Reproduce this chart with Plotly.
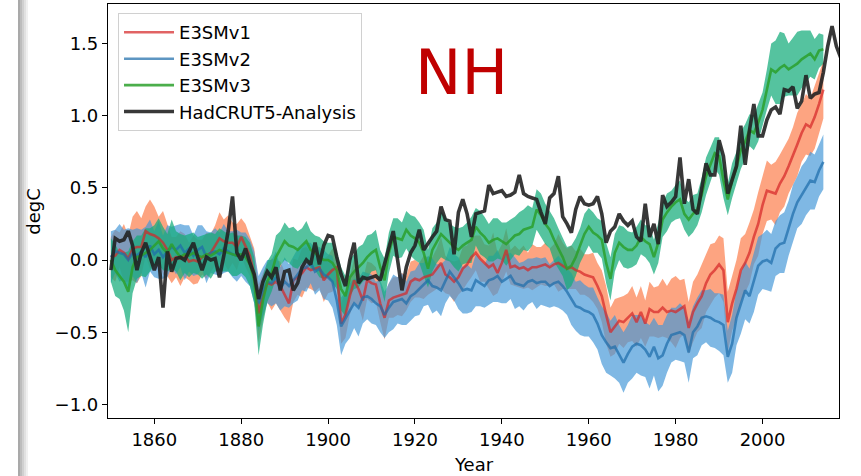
import numpy as np
import plotly.graph_objects as go

# ---- data -------------------------------------------------------------
model_years = list(range(1850, 2015))
obs_years = list(range(1850, 2021))

e3smv1_mean = [
    0.02, 0.03, 0.07, 0.05, 0.01, 0.08, 0.09, 0.09, 0.20, 0.18,
    0.17, 0.15, 0.12, 0.07, 0.00, 0.02, 0.01, 0.03, -0.01, 0.00,
    -0.01, 0.02, 0.03, 0.05, 0.10, 0.15, 0.13, 0.12, 0.12, 0.09,
    0.16, 0.10, 0.03, -0.10, -0.37, -0.25, -0.16, -0.17, -0.15, -0.18,
    -0.24, -0.30, -0.14, -0.12, -0.09, -0.05, -0.07, -0.06, -0.05, -0.14,
    -0.10, -0.07, -0.05, -0.44, -0.38, -0.25, -0.14, -0.20, -0.28, -0.14,
    -0.16, -0.17, -0.30, -0.40, -0.28, -0.26, -0.25, -0.24, -0.23, -0.15,
    -0.13, -0.14, -0.12, -0.11, -0.10, -0.06, -0.02, -0.10, -0.12, -0.15,
    -0.12, -0.06, -0.03, 0.02, 0.05, 0.01, -0.02, -0.05, -0.03, -0.09,
    -0.02, 0.07, -0.05, -0.04, -0.06, -0.05, -0.07, -0.05, -0.05, -0.04,
    -0.03, -0.05, -0.03, -0.02, -0.04, -0.06, -0.05, -0.07, -0.08, -0.10,
    -0.11, -0.12, -0.18, -0.25, -0.38, -0.50, -0.46, -0.42, -0.43, -0.40,
    -0.37, -0.43, -0.36, -0.44, -0.34, -0.36, -0.36, -0.33, -0.36, -0.35,
    -0.36, -0.34, -0.32, -0.47, -0.36, -0.30, -0.25, -0.16, -0.10, -0.07,
    -0.03, -0.07, -0.43, -0.30, -0.20, -0.07, -0.02, 0.05, 0.16, 0.25,
    0.38, 0.48, 0.47, 0.46, 0.53, 0.58, 0.65, 0.72, 0.80, 0.88,
    0.94, 0.92, 0.99, 1.08, 1.18,
]
e3smv1_spread = [
    0.14, 0.18, 0.12, 0.20, 0.16, 0.22, 0.25, 0.20, 0.17, 0.24,
    0.20, 0.15, 0.22, 0.18, 0.16, 0.14, 0.19, 0.15, 0.13, 0.17,
    0.15, 0.12, 0.16, 0.13, 0.14, 0.18, 0.15, 0.19, 0.14, 0.16,
    0.13, 0.15, 0.14, 0.18, 0.20, 0.16, 0.13, 0.18, 0.15, 0.17,
    0.16, 0.14, 0.15, 0.12, 0.17, 0.14, 0.13, 0.16, 0.14, 0.15,
    0.13, 0.15, 0.12, 0.14, 0.16, 0.13, 0.15, 0.12, 0.14, 0.13,
    0.14, 0.12, 0.13, 0.15, 0.12, 0.14, 0.13, 0.15, 0.12, 0.14,
    0.13, 0.12, 0.15, 0.13, 0.12, 0.14, 0.18, 0.13, 0.12, 0.14,
    0.12, 0.15, 0.13, 0.14, 0.12, 0.16, 0.13, 0.15, 0.22, 0.14,
    0.13, 0.15, 0.12, 0.14, 0.13, 0.15, 0.12, 0.16, 0.14, 0.13,
    0.15, 0.13, 0.14, 0.20, 0.16, 0.14, 0.15, 0.13, 0.16, 0.14,
    0.15, 0.17, 0.16, 0.18, 0.20, 0.17, 0.19, 0.16, 0.18, 0.17,
    0.19, 0.17, 0.18, 0.16, 0.19, 0.17, 0.18, 0.20, 0.18, 0.22,
    0.25, 0.20, 0.19, 0.18, 0.21, 0.20, 0.22, 0.20, 0.21, 0.19,
    0.20, 0.22, 0.21, 0.19, 0.20, 0.22, 0.20, 0.21, 0.19, 0.22,
    0.20, 0.21, 0.19, 0.22, 0.20, 0.21, 0.19, 0.20, 0.22, 0.20,
    0.21, 0.20, 0.22, 0.21, 0.20,
]

e3smv2_mean = [
    0.02, 0.06, 0.05, 0.04, 0.00, 0.05, 0.03, 0.06, 0.02, 0.10,
    0.04, 0.07, 0.02, 0.06, 0.09, 0.07, 0.10, 0.05, 0.08, 0.03,
    0.07, 0.09, 0.02, 0.05, 0.06, 0.04, 0.08, 0.06, 0.04, 0.03,
    0.04, 0.02, -0.02, -0.12, -0.30, -0.22, -0.15, -0.16, -0.12, -0.20,
    -0.15, -0.18, -0.14, -0.10, -0.06, -0.05, -0.02, -0.08, -0.06, -0.10,
    -0.12, -0.15, -0.28, -0.46, -0.40, -0.35, -0.30, -0.33, -0.26, -0.25,
    -0.27, -0.30, -0.32, -0.38, -0.33, -0.29, -0.28, -0.27, -0.30, -0.25,
    -0.23, -0.20, -0.17, -0.14, -0.18, -0.19, -0.21, -0.15, -0.08, -0.12,
    -0.16, -0.21, -0.20, -0.21, -0.14, -0.16, -0.18, -0.14, -0.13, -0.11,
    -0.15, -0.13, -0.11, -0.16, -0.17, -0.18, -0.15, -0.14, -0.16, -0.15,
    -0.15, -0.18, -0.16, -0.15, -0.18, -0.22, -0.27, -0.32, -0.33, -0.35,
    -0.36, -0.38, -0.44, -0.52, -0.57, -0.61, -0.60, -0.65, -0.71, -0.65,
    -0.60, -0.58, -0.59, -0.62, -0.67, -0.60, -0.68, -0.66, -0.58, -0.52,
    -0.51, -0.50, -0.52, -0.64, -0.50, -0.46, -0.40, -0.39, -0.40, -0.42,
    -0.43, -0.45, -0.67, -0.58, -0.40, -0.30, -0.21, -0.25, -0.15, -0.04,
    -0.01, 0.00, -0.02, 0.08, 0.11, 0.12, 0.22, 0.32, 0.40, 0.45,
    0.50, 0.55, 0.54, 0.62, 0.68,
]
e3smv2_spread = [
    0.18, 0.15, 0.20, 0.17, 0.22, 0.16, 0.19, 0.15, 0.21, 0.18,
    0.16, 0.20, 0.15, 0.18, 0.14, 0.17, 0.15, 0.19, 0.16, 0.14,
    0.17, 0.15, 0.18, 0.14, 0.16, 0.15, 0.17, 0.14, 0.16, 0.18,
    0.15, 0.17, 0.16, 0.18, 0.19, 0.17, 0.15, 0.16, 0.18, 0.15,
    0.17, 0.15, 0.16, 0.18, 0.15, 0.17, 0.14, 0.16, 0.15, 0.17,
    0.16, 0.18, 0.17, 0.20, 0.18, 0.19, 0.17, 0.20, 0.18, 0.16,
    0.17, 0.15, 0.18, 0.16, 0.17, 0.19, 0.16, 0.18, 0.15, 0.17,
    0.16, 0.18, 0.15, 0.17, 0.19, 0.16, 0.18, 0.15, 0.17, 0.16,
    0.18, 0.16, 0.17, 0.15, 0.18, 0.16, 0.15, 0.17, 0.16, 0.18,
    0.15, 0.17, 0.16, 0.18, 0.15, 0.17, 0.16, 0.15, 0.18, 0.16,
    0.17, 0.15, 0.16, 0.18, 0.17, 0.16, 0.18, 0.17, 0.19, 0.18,
    0.17, 0.19, 0.18, 0.20, 0.21, 0.19, 0.22, 0.20, 0.21, 0.20,
    0.22, 0.20, 0.21, 0.19, 0.22, 0.20, 0.23, 0.21, 0.20, 0.19,
    0.18, 0.20, 0.19, 0.21, 0.18, 0.20, 0.19, 0.18, 0.20, 0.19,
    0.20, 0.21, 0.18, 0.20, 0.19, 0.21, 0.20, 0.19, 0.21, 0.20,
    0.19, 0.21, 0.20, 0.19, 0.20, 0.21, 0.19, 0.20, 0.18, 0.20,
    0.19, 0.20, 0.19, 0.18, 0.19,
]

e3smv3_mean = [
    0.00, -0.07, -0.11, -0.15, -0.22, -0.05, 0.02, 0.03, 0.05, 0.07,
    0.10, 0.13, 0.08, 0.05, 0.11, 0.06, 0.02, 0.04, 0.03, 0.05,
    0.03, 0.02, 0.04, 0.03, 0.05, 0.07, 0.06, 0.05, 0.04, 0.03,
    0.04, 0.02, -0.03, -0.14, -0.46, -0.28, -0.15, -0.09, 0.02, 0.08,
    0.13, 0.10, 0.09, 0.07, 0.10, 0.13, 0.07, 0.05, 0.02, 0.00,
    0.00, -0.02, -0.07, -0.20, -0.25, -0.12, -0.08, -0.05, -0.02, 0.02,
    0.05, 0.07, -0.05, -0.14, 0.05, 0.16, 0.15, 0.14, 0.21, 0.17,
    0.15, 0.12, 0.05, -0.06, 0.07, 0.12, 0.18, 0.15, 0.12, 0.09,
    0.07, 0.10, 0.12, 0.14, 0.23, 0.19, 0.16, 0.12, 0.14, 0.15,
    0.13, 0.11, 0.14, 0.17, 0.18, 0.21, 0.22, 0.23, 0.35, 0.31,
    0.25, 0.21, 0.14, 0.08, 0.02, -0.06, -0.04, 0.02, 0.10, 0.18,
    0.23, 0.19, 0.17, 0.14, -0.02, -0.13, 0.05, 0.12, 0.09, 0.07,
    0.07, 0.10, 0.16, 0.13, 0.11, 0.02, 0.12, 0.28, 0.33, 0.37,
    0.40, 0.42, 0.32, 0.28, 0.32, 0.35, 0.45, 0.58, 0.66, 0.74,
    0.72, 0.55, 0.42, 0.55, 0.64, 0.76, 0.82, 0.90, 0.88, 0.95,
    1.04, 1.18, 1.32, 1.30, 1.33, 1.35, 1.32, 1.34, 1.36, 1.39,
    1.41, 1.43, 1.39, 1.45, 1.46,
]
e3smv3_spread = [
    0.15, 0.18, 0.16, 0.20, 0.28, 0.18, 0.15, 0.14, 0.17, 0.15,
    0.14, 0.16, 0.15, 0.13, 0.17, 0.14, 0.16, 0.13, 0.15, 0.14,
    0.13, 0.15, 0.14, 0.16, 0.13, 0.15, 0.14, 0.13, 0.15, 0.14,
    0.13, 0.14, 0.15, 0.16, 0.20, 0.17, 0.14, 0.13, 0.15, 0.12,
    0.13, 0.12, 0.14, 0.13, 0.12, 0.14, 0.13, 0.12, 0.14, 0.13,
    0.12, 0.14, 0.13, 0.15, 0.14, 0.13, 0.12, 0.14, 0.13, 0.15,
    0.13, 0.14, 0.12, 0.15, 0.14, 0.13, 0.14, 0.12, 0.13, 0.14,
    0.15, 0.14, 0.16, 0.13, 0.15, 0.14, 0.16, 0.15, 0.13, 0.14,
    0.15, 0.13, 0.14, 0.16, 0.13, 0.15, 0.14, 0.13, 0.15, 0.14,
    0.13, 0.15, 0.14, 0.13, 0.15, 0.14, 0.16, 0.13, 0.14, 0.15,
    0.14, 0.13, 0.15, 0.14, 0.13, 0.15, 0.14, 0.13, 0.12, 0.14,
    0.13, 0.14, 0.12, 0.13, 0.14, 0.15, 0.13, 0.12, 0.14, 0.13,
    0.12, 0.13, 0.12, 0.11, 0.13, 0.12, 0.14, 0.12, 0.13, 0.11,
    0.12, 0.13, 0.11, 0.12, 0.13, 0.11, 0.12, 0.13, 0.12, 0.11,
    0.13, 0.12, 0.11, 0.12, 0.11, 0.13, 0.12, 0.11, 0.12, 0.13,
    0.12, 0.14, 0.18, 0.22, 0.25, 0.22, 0.18, 0.20, 0.22, 0.20,
    0.18, 0.16, 0.14, 0.12, 0.10,
]

hadcrut5 = [
    -0.07, 0.15, 0.13, 0.14, 0.20, 0.10, -0.07, 0.05, 0.12, 0.02,
    -0.07, 0.02, -0.33, 0.06, -0.08, 0.01, 0.02, 0.00, 0.06, 0.12,
    0.02, -0.07, 0.02, 0.00, 0.01, -0.12, 0.03, 0.20, 0.44, 0.05,
    0.00, 0.08, -0.02, -0.10, -0.27, -0.15, -0.08, -0.12, -0.05, -0.21,
    -0.08, -0.07, -0.21, -0.16, -0.05, 0.00, -0.03, 0.12, -0.03, 0.10,
    0.17, 0.16, 0.02, -0.10, -0.18, 0.00, 0.12, -0.16, -0.12, -0.13,
    -0.12, -0.11, -0.14, -0.02, 0.10, 0.20, 0.00, -0.21, -0.05, 0.05,
    0.10, 0.21, 0.07, 0.12, 0.16, 0.20, 0.37, 0.28, 0.27, 0.04,
    0.33, 0.42, 0.32, 0.16, 0.32, 0.33, 0.34, 0.52, 0.46, 0.47,
    0.48, 0.44, 0.45, 0.47, 0.59, 0.46, 0.44, 0.43, 0.42, 0.33,
    0.25, 0.43, 0.46, 0.58, 0.30, 0.25, 0.19, 0.35, 0.44, 0.39,
    0.38, 0.39, 0.44, 0.32, 0.12, 0.20, 0.23, 0.32, 0.27, 0.24,
    0.27, 0.16, 0.13, 0.39, 0.16, 0.25, 0.11, 0.45, 0.37, 0.40,
    0.44, 0.71, 0.39, 0.56, 0.35, 0.32, 0.48, 0.67, 0.59, 0.59,
    0.83, 0.72, 0.46, 0.55, 0.65, 0.93, 0.66, 0.90, 1.08, 0.86,
    0.86, 0.97, 1.04, 1.06, 1.01, 1.18, 1.17, 1.20, 1.05, 1.10,
    1.28, 1.12, 1.15, 1.16, 1.30, 1.48, 1.62, 1.48, 1.40, 1.52,
    1.60,
]

y_ticks = [-1.0, -0.5, 0.0, 0.5, 1.0, 1.5]
x_ticks = [1860, 1880, 1900, 1920, 1940, 1960, 1980, 2000]

# ---- styling ----------------------------------------------------------
FONT = "DejaVu Sans"
FS = 18
series = [
    ("E3SMv1", e3smv1_mean, e3smv1_spread,
     "rgba(252,141,98,0.80)", "rgba(214,39,40,0.72)"),
    ("E3SMv2", e3smv2_mean, e3smv2_spread,
     "rgba(66,150,215,0.68)", "rgba(31,110,170,0.72)"),
    ("E3SMv3", e3smv3_mean, e3smv3_spread,
     "rgba(20,172,122,0.72)", "rgba(44,160,44,0.85)"),
]

fig = go.Figure()

yrs = np.array(model_years)
# shaded spread bands first
for name, mean, spread, fill_col, _ in series:
    m = np.array(mean)
    s = np.array(spread)
    upper = m + s
    lower = m - s
    fig.add_trace(go.Scatter(
        x=np.concatenate([yrs, yrs[::-1]]),
        y=np.concatenate([upper, lower[::-1]]),
        fill="toself", fillcolor=fill_col, line=dict(width=0),
        mode="lines", showlegend=False, hoverinfo="skip",
    ))

# ensemble means on top
for name, mean, spread, _, line_col in series:
    fig.add_trace(go.Scatter(
        x=model_years, y=mean, mode="lines", name=name,
        line=dict(color=line_col, width=2.6),
        legendgroup=name,
    ))

fig.add_trace(go.Scatter(
    x=obs_years, y=hadcrut5, mode="lines", name="HadCRUT5-Analysis",
    line=dict(color="rgba(34,34,34,0.9)", width=3.6),
    legendgroup="HadCRUT5-Analysis",
))

axis_common = dict(
    showline=True, linecolor="black", linewidth=1.2, mirror=True,
    ticks="outside", ticklen=5, tickwidth=1.2, tickcolor="black",
    showgrid=False, zeroline=False,
    tickfont=dict(family=FONT, size=FS, color="black"),
)

fig.update_layout(
    width=861, height=476,
    margin=dict(l=108, r=22, t=4, b=58),
    paper_bgcolor="white", plot_bgcolor="white",
    font=dict(family=FONT, size=FS, color="black"),
    xaxis=dict(range=[1849.34, 2017.6], tickvals=x_ticks,
               ticktext=[str(t) for t in x_ticks], **axis_common),
    yaxis=dict(range=[-1.094, 1.773], tickvals=y_ticks,
               ticktext=[f"{t:.1f}".replace("-", "\u2212") for t in y_ticks],
               **axis_common),
    legend=dict(
        x=0.0137, y=0.978, xanchor="left", yanchor="top",
        bgcolor="rgba(255,255,255,0.85)", bordercolor="#d0d0d0",
        borderwidth=1, font=dict(family=FONT, size=FS, color="black"),
        tracegroupgap=4, traceorder="normal", itemwidth=50,
    ),
    annotations=[
        dict(text="NH", xref="paper", yref="paper", x=0.484, y=0.835,
             xanchor="center", yanchor="middle", showarrow=False,
             font=dict(family=FONT, size=62, color="#c00000")),
        dict(text="degC", xref="paper", yref="paper", x=-0.103, y=0.5,
             xanchor="center", yanchor="middle", textangle=-90,
             showarrow=False, font=dict(family=FONT, size=FS)),
        dict(text="Year", xref="paper", yref="paper", x=0.5, y=-0.083,
             xanchor="center", yanchor="top", showarrow=False,
             font=dict(family=FONT, size=FS)),
    ],
)

# grey page-edge strip along the left side
strip = [(18, 20, "#a9a9a9"), (20, 22, "#bdbdbd"), (22, 24, "#d0d0d0"),
         (24, 26, "#e1e1e1"), (26, 28, "#f0f0f0")]
for x0, x1, col in strip:
    fig.add_shape(type="rect", xref="paper", yref="paper",
                  x0=(x0 - 108) / 731, x1=(x1 - 108) / 731,
                  y0=-58 / 414, y1=1 + 4 / 414,
                  fillcolor=col, line=dict(width=0), layer="below")

fig.write_html("out.html")
